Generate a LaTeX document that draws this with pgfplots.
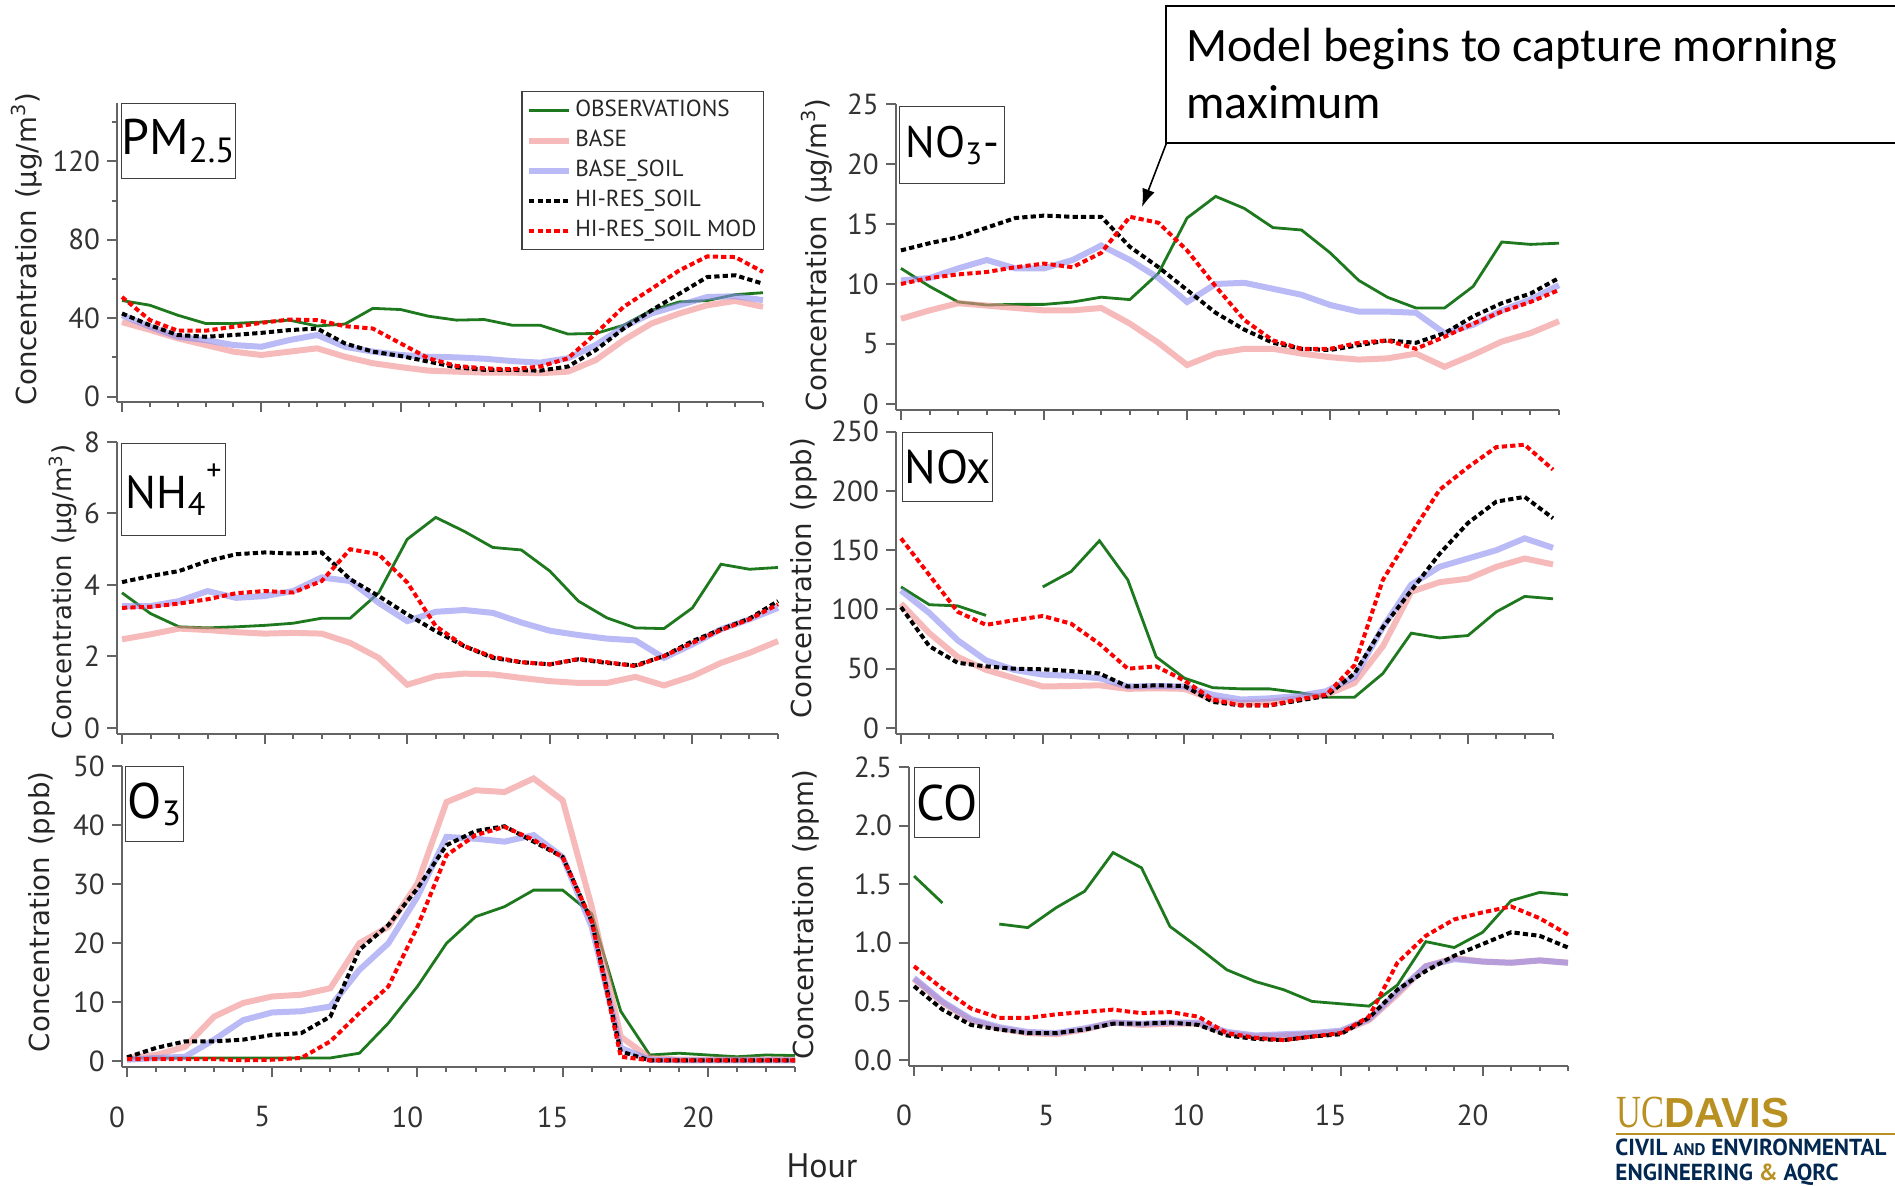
\documentclass[border=0pt]{standalone}
\usepackage{pgfplots}
\pgfplotsset{compat=1.18}
\usepackage{pgfplotstable}
\usepackage{fontspec}
\usetikzlibrary{arrows.meta}
\setmainfont{PT Sans}
\newfontfamily\dejavu{DejaVu Sans}
\newfontfamily\carlito{Carlito}
\newfontfamily\lsans{Liberation Sans}
\newfontfamily\ucserif[FakeStretch=0.75]{Liberation Serif}

\definecolor{obsgreen}{RGB}{30,120,30}
\definecolor{basepink}{RGB}{242,140,140}
\definecolor{soilblue}{RGB}{140,140,242}
\definecolor{modred}{RGB}{255,0,0}
\definecolor{axgray}{RGB}{100,100,100}
\definecolor{ucgold}{RGB}{185,145,35}
\definecolor{ucnavy}{RGB}{2,40,81}

\pgfplotsset{
  panel/.style={
    scale only axis, anchor=south west, clip=false,
    xmin=-0.18, xmax=23,
    axis x line*=bottom, axis y line*=left,
    axis line style={axgray, line width=1pt},
    every tick/.style={axgray, line width=1pt},
    tick align=outside,
    major tick length=5pt, minor tick length=2.5pt,
    xtick={0,5,10,15,20},
    minor xtick={1,2,3,4,6,7,8,9,11,12,13,14,16,17,18,19,21,22,23},
    xticklabels={},
    tick label style={font=\fontsize{14.5}{16}\selectfont, text=black!80},
    /pgf/number format/assume math mode=true,
    unbounded coords=jump,
    ylabel style={font=\dejavu\fontsize{13.8}{16}\selectfont, text=black!85, anchor=center},
    legend image code/.code={\draw[##1] (0pt,0pt) -- (20pt,0pt);},
  },
  bottompanel/.style={xticklabels={0,5,10,15,20},
    xticklabel style={yshift=-11pt, xshift=-5pt}},
  obs/.style={obsgreen, line width=1.4pt},
  base/.style={basepink, opacity=0.6, line width=3pt},
  bsoil/.style={soilblue, opacity=0.6, line width=3pt},
  hires/.style={black, line width=2pt, dash pattern=on 2.6pt off 1.6pt},
  hmod/.style={modred, line width=2pt, dash pattern=on 2.6pt off 1.6pt},
}

% hourly means: observations and the four model runs
\pgfplotstableread{
h obs base bsoil hires hmod
0 49 38 41.5 42.4 50.8
1 46.6 34 35.6 36.4 39
2 41.5 29.7 30.5 31.4 33.6
3 37.3 26.3 28.8 30.5 33.6
4 37.3 22.9 26.3 31.4 35.6
5 38 21.2 25.4 32.5 37.6
6 39 22.9 28.8 33.9 39.3
7 36 24.6 31.4 34.7 39
8 37 20.3 25.4 27.1 35.9
9 45 17 22.9 22.9 34.7
10 44.4 15 21.2 20.7 27.1
11 41 13.2 20.3 17.8 19.5
12 39 12.7 20 14.9 15.6
13 39.3 12.2 19.3 13.6 14.4
14 36.4 12.2 18.1 13.6 13.9
15 36.4 11.9 17.3 13.2 15.3
16 31.9 12.7 19.5 15.3 19.5
17 32.2 18.6 26.3 23.7 32.2
18 36.4 28.8 35.6 34.7 45.8
19 44 37.3 42.4 44 55
20 48.3 42.4 46.6 52.5 64.4
21 49 46.6 50.8 61 71.5
22 52 48.8 51.2 61.9 71.2
23 53 45.8 49.2 57.6 63.6
}\pmtab

\pgfplotstableread{
h obs base bsoil hires hmod
0 11.3 7.1 10.3 12.8 10.0
1 9.8 7.8 10.5 13.4 10.5
2 8.5 8.4 11.3 13.9 10.8
3 8.25 8.2 12.0 14.7 11.0
4 8.3 8.0 11.3 15.5 11.4
5 8.3 7.8 11.3 15.7 11.7
6 8.5 7.8 12.0 15.6 11.4
7 8.9 8.0 13.2 15.6 12.6
8 8.7 6.7 12.0 13.1 15.6
9 10.9 5.1 10.5 11.4 15.1
10 15.5 3.25 8.5 9.5 12.8
11 17.3 4.2 10.0 7.6 9.8
12 16.3 4.6 10.1 6.2 7.0
13 14.7 4.6 9.6 5.1 5.3
14 14.5 4.2 9.1 4.6 4.6
15 12.6 3.9 8.25 4.5 4.6
16 10.3 3.7 7.7 4.9 5.1
17 8.9 3.8 7.7 5.3 5.3
18 8.0 4.2 7.6 5.1 4.6
19 8.0 3.1 5.9 5.9 5.6
20 9.8 4.1 6.6 7.3 6.7
21 13.5 5.2 7.8 8.4 7.7
22 13.3 5.9 8.7 9.2 8.5
23 13.4 6.9 9.9 10.5 9.5
}\notab

\pgfplotstableread{
h obs base bsoil hires hmod
0 3.78 2.48 3.41 4.08 3.36
1 3.2 2.62 3.41 4.25 3.39
2 2.83 2.78 3.55 4.39 3.48
3 2.8 2.74 3.83 4.67 3.6
4 2.83 2.68 3.64 4.86 3.77
5 2.87 2.64 3.69 4.91 3.83
6 2.93 2.66 3.83 4.88 3.79
7 3.07 2.64 4.21 4.91 4.11
8 3.07 2.38 4.11 4.16 5.0
9 3.78 1.96 3.5 3.69 4.86
10 5.28 1.21 2.99 3.18 4.07
11 5.89 1.45 3.25 2.71 2.85
12 5.5 1.52 3.3 2.29 2.29
13 5.05 1.5 3.22 1.96 1.99
14 4.98 1.4 2.95 1.84 1.84
15 4.39 1.31 2.72 1.78 1.78
16 3.55 1.26 2.6 1.92 1.93
17 3.08 1.26 2.5 1.82 1.84
18 2.8 1.43 2.45 1.75 1.73
19 2.78 1.19 1.96 2.01 2.01
20 3.36 1.45 2.34 2.43 2.38
21 4.58 1.82 2.76 2.76 2.74
22 4.44 2.1 3.04 3.06 3.04
23 4.49 2.43 3.36 3.55 3.46
}\nhtab

\pgfplotstableread{
h obs base bsoil hires hmod
0 119 105 116 102 160
1 104 80 97 69 129
2 103 60 74 55 98
3 95 49 57 52 87
4 nan 42 49 50 91
5 119 35 45 49.5 94.5
6 132 35.4 44 48 88
7 158 36 42 46 71
8 125 33 35 35 50
9 60 33.5 35.4 36 52
10 42 33 35 35.4 40
11 34 24 28 22 24
12 33 21 24 19 19
13 33 22 25 19 19
14 30 25 27 23 24
15 26 28 31 27 28
16 26 38 43 46 53
17 46 69 85 85 125
18 80 115 121 116 164
19 76 123 136 147 201
20 78 126 143 173 220
21 98 136 150 191 237
22 111 143 160 195 239
23 109 138 152 177 218
}\noxtab

\pgfplotstableread{
h obs base bsoil hires hmod
0 0.6 0.6 0.3 0.7 0.4
1 0.6 1.1 0.6 2.3 0.4
2 0.6 2.5 0.8 3.4 0.4
3 0.6 7.6 3.7 3.4 0.4
4 0.6 9.9 7.0 3.7 0.2
5 0.6 11 8.3 4.5 0.3
6 0.6 11.3 8.5 4.8 0.6
7 0.6 12.4 9.3 7.6 3.4
8 1.4 20 15.5 18.9 8.2
9 6.5 22.8 20 23.1 12.7
10 12.7 30.1 27.9 29.3 22.8
11 20 43.9 38 36.6 34.9
12 24.5 45.9 37.7 39 38.3
13 26.2 45.6 37.2 39.8 39.7
14 29 47.9 38.3 37.2 37.5
15 29 44.2 34.6 34.6 34.6
16 25 26.2 22.8 23.7 23.7
17 8.5 4.2 2.3 1.7 0.8
18 1.1 0.6 0.3 0.2 0.2
19 1.4 0.3 0.2 0.2 0.2
20 1.1 0.3 0.2 0.2 0.2
21 0.8 0.3 0.2 0.2 0.2
22 1.1 0.3 0.2 0.2 0.2
23 1.0 0.3 0.2 0.2 0.2
}\othree

\pgfplotstableread{
h obs base bsoil hires hmod
0 1.57 0.69 0.7 0.63 0.8
1 1.34 0.49 0.5 0.43 0.61
2 nan 0.34 0.35 0.3 0.44
3 1.16 0.27 0.28 0.26 0.36
4 1.13 0.23 0.24 0.23 0.36
5 1.3 0.22 0.23 0.23 0.39
6 1.44 0.26 0.27 0.26 0.41
7 1.77 0.32 0.32 0.31 0.43
8 1.64 0.3 0.31 0.31 0.4
9 1.14 0.31 0.32 0.32 0.41
10 0.96 0.31 0.32 0.3 0.37
11 0.77 0.23 0.24 0.21 0.23
12 0.67 0.2 0.21 0.18 0.19
13 0.6 0.21 0.22 0.17 0.17
14 0.5 0.22 0.23 0.2 0.2
15 0.48 0.24 0.25 0.22 0.23
16 0.46 0.34 0.35 0.36 0.37
17 0.64 0.56 0.58 0.6 0.83
18 1.01 0.8 0.8 0.76 1.06
19 0.96 0.87 0.86 0.89 1.2
20 1.09 0.84 0.84 0.99 1.26
21 1.36 0.83 0.83 1.09 1.31
22 1.43 0.85 0.85 1.06 1.21
23 1.41 0.83 0.83 0.96 1.07
}\cotab

\newcommand\fivelines[1]{%
  \addplot[obs] table[x=h,y=obs]{#1};
  \addplot[base] table[x=h,y=base]{#1};
  \addplot[bsoil] table[x=h,y=bsoil]{#1};
  \addplot[hires] table[x=h,y=hires]{#1};
  \addplot[hmod] table[x=h,y=hmod]{#1};
}

\begin{document}
\begin{tikzpicture}
\path[use as bounding box] (0pt,0pt) rectangle (947.5pt,-593pt);

% PM2.5
\begin{axis}[panel, at={(58.5pt,-201.2pt)}, width=323pt, height=149.85pt,
  ymin=-3, ymax=150, ytick={0,40,80,120}, minor ytick={20,60,100,140},
  ylabel={Concentration\hspace{0.4em}(µg/m\textsuperscript{3})},
  ylabel style={at={(axis description cs:-0.140,0.512)}},
  legend cell align=left,
  legend style={at={(1.002,1.04)}, anchor=north east, draw=black!75, line width=0.8pt,
    font=\fontsize{11.6}{13}\selectfont, text=black!85, inner xsep=2pt, inner ysep=2pt,
    row sep=0pt, nodes={inner sep=1.5pt, text height=9pt, text depth=3pt}}]
\fivelines{\pmtab}
\legend{OBSERVATIONS,BASE,BASE\_SOIL,HI-RES\_SOIL,HI-RES\_SOIL MOD}
\end{axis}

% NO3-
\begin{axis}[panel, at={(447.9pt,-205pt)}, width=331.6pt, height=153pt,
  ymin=-0.5, ymax=25, ytick={0,5,...,25},
  ylabel={Concentration\hspace{0.4em}(µg/m\textsuperscript{3})},
  ylabel style={at={(axis description cs:-0.119,0.507)}}]
\fivelines{\notab}
\end{axis}

% NH4+
\begin{axis}[panel, at={(58.45pt,-366.85pt)}, width=330.55pt, height=145.85pt,
  ymin=-0.16, ymax=8, ytick={0,2,4,6,8},
  ylabel={Concentration\hspace{0.4em}(µg/m\textsuperscript{3})},
  ylabel style={at={(axis description cs:-0.0815,0.486)}, font=\dejavu\fontsize{13}{15}\selectfont}]
\fivelines{\nhtab}
\end{axis}

% NOx
\begin{axis}[panel, at={(447.95pt,-366.95pt)}, width=328.55pt, height=151.1pt,
  ymin=-5, ymax=250, ytick={0,50,...,250},
  ylabel={Concentration\hspace{0.4em}(ppb)},
  ylabel style={at={(axis description cs:-0.140,0.516)}}]
\fivelines{\noxtab}
\end{axis}

% O3
\begin{axis}[panel, bottompanel, at={(60.9pt,-533.7pt)}, width=336.6pt, height=150.7pt,
  ymin=-1, ymax=50, ytick={0,10,...,50},
  ylabel={Concentration\hspace{0.4em}(ppb)},
  ylabel style={at={(axis description cs:-0.1185,0.516)}}]
\fivelines{\othree}
\end{axis}

% CO
\begin{axis}[panel, bottompanel, at={(454.45pt,-532.95pt)}, width=329.55pt, height=149.45pt,
  ymin=-0.05, ymax=2.5, ytick={0,0.5,...,2.5},
  yticklabel style={/pgf/number format/.cd, fixed, fixed zerofill, precision=1},
  ylabel={Concentration\hspace{0.4em}(ppm)},
  ylabel style={at={(axis description cs:-0.156,0.505)}}]
\fivelines{\cotab}
\end{axis}

\begin{scope}[x=0.5pt,y=-0.5pt]
% species boxes
\tikzset{spbox/.style={draw=black!75, line width=0.7pt, inner sep=0pt, anchor=north west, text=black}}
\node[spbox, minimum width=56.15pt, minimum height=37.5pt, font=\fontsize{25}{25}\selectfont] at (120.7,103) {PM\textsubscript{2.5}};
\node[spbox, minimum width=52.5pt, minimum height=38.5pt, font=\fontsize{22}{22}\selectfont] at (899,106) {NO\textsubscript{3}-};
\node[spbox, minimum width=52pt, minimum height=46pt, font=\fontsize{23}{23}\selectfont] at (121,443) {NH\textsubscript{4}\raisebox{14pt}{\fontsize{15}{15}\selectfont +}};
\node[spbox, minimum width=45pt, minimum height=34.5pt, font=\fontsize{23.5}{23.5}\selectfont] at (902,432) {NOx};
\node[spbox, minimum width=29pt, minimum height=37.5pt, font=\fontsize{25}{25}\selectfont] at (125,766) {O\textsubscript{3}};
\node[spbox, minimum width=32.5pt, minimum height=35pt, font=\fontsize{25}{25}\selectfont] at (914,767) {CO};

% x label
\node[font=\fontsize{17}{20}\selectfont, text=black!85] at (822,1166) {Hour};

% callout
\draw[line width=0.8pt] (1166,6) rectangle (1910,143);
\node[anchor=base west, inner sep=0pt, font=\carlito\fontsize{24}{29}\selectfont] at (1186,62) {Model begins to capture morning};
\node[anchor=base west, inner sep=0pt, font=\carlito\fontsize{24}{29}\selectfont] at (1186,119) {maximum};
\draw[line width=0.8pt, -{Latex[length=9pt,width=6.5pt]}] (1166.5,143) -- (1142,207);

% logo
\node[anchor=base west, inner sep=0pt, text=ucgold] at (1616,1127) {{\ucserif\fontsize{23}{23}\selectfont UC}{\lsans\bfseries\fontsize{21}{21}\selectfont DAVIS}};
\draw[ucgold, line width=0.6pt] (1616,1134) -- (1900,1134);
\node[anchor=base west, inner sep=0pt, text=ucnavy, font=\bfseries\fontsize{11.6}{11.6}\selectfont] at (1615,1155) {CIVIL {\fontsize{8.4}{8.4}\selectfont AND} ENVIRONMENTAL};
\node[anchor=base west, inner sep=0pt, text=ucnavy, font=\bfseries\fontsize{11.6}{11.6}\selectfont] at (1615,1180) {ENGINEERING {\color{ucgold}\&} AQRC};
\end{scope}
\end{tikzpicture}
\end{document}
